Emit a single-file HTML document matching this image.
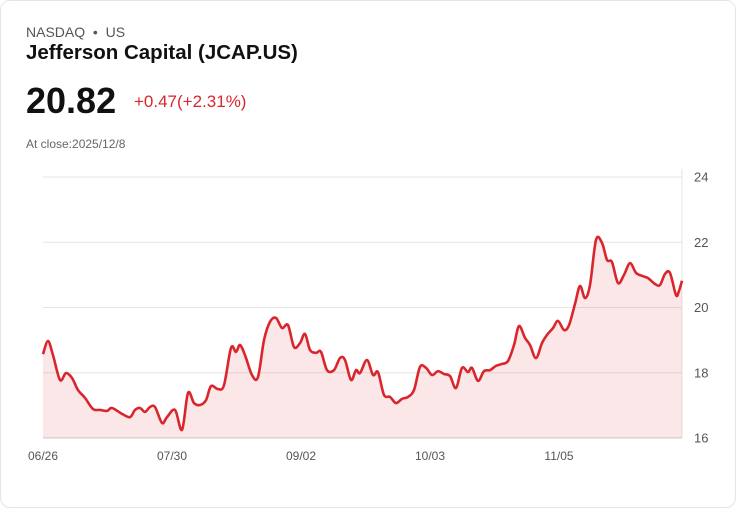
<!DOCTYPE html>
<html><head><meta charset="utf-8"><style>
body{margin:0;background:#fff;font-family:"Liberation Sans",sans-serif;}
#card{position:absolute;left:0;top:0;width:734px;height:506px;border:1px solid #e3e5ea;border-radius:10px;background:#fff;}
.t{position:absolute;white-space:nowrap;}
</style></head><body>
<div id="card">
<div class="t" style="left:25px;top:23px;font-size:14px;color:#555;">NASDAQ &nbsp;•&nbsp; US</div>
<div class="t" style="left:25px;top:40px;font-size:20.5px;font-weight:bold;color:#111;">Jefferson Capital (JCAP.US)</div>
<div class="t" style="left:25px;top:79px;font-size:36px;font-weight:bold;color:#111;">20.82</div>
<div class="t" style="left:133px;top:91px;font-size:17px;color:#d9262c;">+0.47(+2.31%)</div>
<div class="t" style="left:25px;top:136px;font-size:12px;color:#666;">At close:2025/12/8</div>
<svg id="chart" width="736" height="508" style="position:absolute;left:-1px;top:-1px;"></svg>
</div>
<script>
const times=[0,5,10,17,23,29,35,42,50,57,64,69,79,87,92,97,102,107,112,119,124,132,139,145,151,157,163,168,175,181,188,193,197,202,209,215,221,227,233,239,245,251,257,262,267,273,278,284,291,297,302,308,313,317,324,330,335,341,347,353,359,365,371,377,383,389,395,401,407,413,419,425,429,435,441,447,453,459,465,471,476,482,487,493,499,504,510,515,521,526,532,537,542,547,553,559,564,569,575,581,587,593,599,605,612,617,622,627,633,636,639];
const values=[18.57,18.97,18.54,17.78,17.99,17.84,17.47,17.23,16.89,16.86,16.83,16.92,16.74,16.64,16.86,16.92,16.80,16.95,16.95,16.46,16.64,16.86,16.25,17.38,17.07,17.01,17.16,17.59,17.50,17.62,18.76,18.64,18.85,18.54,17.93,17.87,19.00,19.56,19.68,19.37,19.46,18.79,18.91,19.19,18.70,18.61,18.64,18.08,18.08,18.45,18.39,17.78,18.08,17.99,18.39,17.93,18.02,17.32,17.26,17.07,17.20,17.26,17.47,18.18,18.15,17.93,18.05,17.96,17.90,17.53,18.15,18.02,18.15,17.75,18.05,18.08,18.21,18.27,18.36,18.85,19.43,19.07,18.85,18.45,18.91,19.16,19.37,19.59,19.31,19.46,20.11,20.66,20.29,20.69,22.07,21.98,21.46,21.39,20.75,21.00,21.36,21.06,20.97,20.90,20.72,20.69,21.03,21.06,20.38,20.51,20.82];
const yTicks=[16,18,20,22,24];
const xLabels=["06/26","07/30","09/02","10/03","11/05"];
const xLabelTimes=[0,129,258,387,516];
const svg=document.getElementById('chart');const NS='http://www.w3.org/2000/svg';
const x0=43,x1=682,yTop=177,yBot=438;
const tMax=times[times.length-1];
const xs=t=>x0+(x1-x0)*t/tMax;
const ys=v=>yBot-(v-16)/(24-16)*(yBot-yTop);
function mk(t,a){const e=document.createElementNS(NS,t);for(const k in a)e.setAttribute(k,a[k]);svg.appendChild(e);return e;}
yTicks.forEach(v=>{const l=mk('line',{x1:x0,x2:x1,y1:ys(v),y2:ys(v),stroke:v==16?'#ccc':'#e6e6e6','stroke-width':1});


const t=mk('text',{x:694,y:ys(v)+4.5,'font-size':13,fill:'#555','font-family':'Liberation Sans'});t.textContent=v;

});
const ax=mk('line',{x1:x1,x2:x1,y1:yTop-8,y2:yBot,stroke:'#e6e6e6'});


xLabels.forEach((s,k)=>{const t=mk('text',{x:xs(xLabelTimes[k]),y:460,'font-size':12,fill:'#555','text-anchor':'middle','font-family':'Liberation Sans'});t.textContent=s;

});
const P=values.map((v,i)=>[xs(times[i]),ys(v)]);
let d='M'+P[0][0]+','+P[0][1];
for(let i=0;i<P.length-1;i++){const p0=P[Math.max(0,i-1)],p1=P[i],p2=P[i+1],p3=P[Math.min(P.length-1,i+2)];
d+=`C${p1[0]+(p2[0]-p0[0])/6},${p1[1]+(p2[1]-p0[1])/6} ${p2[0]-(p3[0]-p1[0])/6},${p2[1]-(p3[1]-p1[1])/6} ${p2[0]},${p2[1]}`;}
const area=mk('path',{d:d+`L${x1},${yBot}L${x0},${yBot}Z`,fill:'rgba(217,38,44,0.11)'});


const line=mk('path',{d:d,fill:'none',stroke:'#d9262c','stroke-width':2.6,'stroke-linejoin':'round'});


</script>
</body></html>
